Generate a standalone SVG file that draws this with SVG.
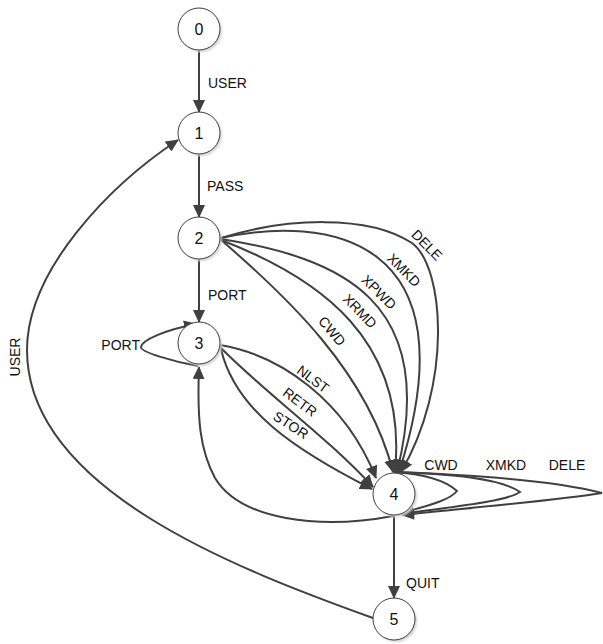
<svg xmlns="http://www.w3.org/2000/svg" width="603" height="644" viewBox="0 0 603 644">
  <defs>
    <marker id="arrow" markerUnits="userSpaceOnUse" markerWidth="13" markerHeight="12" refX="12" refY="6" orient="auto">
      <path d="M0,0 L13,6 L0,12 z" fill="#404040"/>
    </marker>
    <filter id="shadow" x="-30%" y="-30%" width="160%" height="160%">
      <feGaussianBlur stdDeviation="1.2"/>
    </filter>
    <style>
      .edge { fill: none; stroke: #404040; stroke-width: 2; marker-end: url(#arrow); }
      .node circle.body { fill: #ffffff; stroke: #404040; stroke-width: 1; }
      .node circle.shade { fill: #d4d4d4; filter: url(#shadow); }
      .node text { font-family: "Liberation Sans", Arial, sans-serif; font-size: 16px; fill: #111; text-anchor: middle; }
      .lbl { font-family: "Liberation Sans", Arial, sans-serif; font-size: 14px; fill: #111; }
      .mid { text-anchor: middle; }
      .end { text-anchor: end; }
    </style>
  </defs>

  <g id="edges">
    <!-- straight chain -->
    <path class="edge" d="M199,50 L199,112"/>
    <path class="edge" d="M199,154 L199,217"/>
    <path class="edge" d="M199,259 L199,322"/>
    <path class="edge" d="M394,515 L394,598"/>

    <!-- 5 back to 1 -->
    <path class="edge" d="M373,618 C240,570 27,490 27,350 C27,270 110,185 178,140"/>

    <!-- 2 to 4 -->
    <path class="edge" d="M220,239 C285,295 368,372 393,472"/>
    <path class="edge" d="M221,240 C320,278 408,340 395,472"/>
    <path class="edge" d="M221,239 C340,258 440,300 397,472"/>
    <path class="edge" d="M221,238 C325,215 475,235 399,472"/>
    <path class="edge" d="M221,238 C285,218 368,214 412,243 C445,268 452,385 401,472"/>

    <!-- 3 to 4 -->
    <path class="edge" d="M220,345 C280,355 345,400 376,478"/>
    <path class="edge" d="M220,347 C265,393 325,435 373,487"/>
    <path class="edge" d="M221,349 C235,410 295,450 372,489"/>

    <!-- 4 back to 3 -->
    <path class="edge" d="M393,516 C320,530 240,520 215,478 C200,450 197,420 199,367"/>

    <!-- loop on 3 -->
    <path class="edge" d="M198,366 C175,362 140,352 141,347 C142,340 165,330 196,324"/>

    <!-- loops on 4 -->
    <path class="edge" d="M393,472 C425,474 445,480 457,491 C450,500 430,505 402,513"/>
    <path class="edge" d="M393,472 C450,474 500,478 520,492 C505,502 450,507 402,514"/>
    <path class="edge" d="M393,472 C480,475 560,482 602,493 C560,500 480,507 402,515"/>
  </g>

  <g id="labels">
    <text class="lbl" x="208" y="88">USER</text>
    <text class="lbl" x="207" y="191">PASS</text>
    <text class="lbl" x="208" y="300">PORT</text>
    <text class="lbl" x="406" y="588">QUIT</text>
    <text class="lbl end" x="140" y="350">PORT</text>
    <text class="lbl mid" transform="translate(15,357) rotate(-90)" y="5">USER</text>

    <text class="lbl mid" transform="translate(427,245) rotate(45)" y="5">DELE</text>
    <text class="lbl mid" transform="translate(404,270) rotate(45)" y="5">XMKD</text>
    <text class="lbl mid" transform="translate(379,292) rotate(45)" y="5">XPWD</text>
    <text class="lbl mid" transform="translate(360,311) rotate(46)" y="5">XRMD</text>
    <text class="lbl mid" transform="translate(332,331) rotate(50)" y="5">CWD</text>

    <text class="lbl mid" transform="translate(313,379) rotate(37)" y="5">NLST</text>
    <text class="lbl mid" transform="translate(300,402) rotate(37)" y="5">RETR</text>
    <text class="lbl mid" transform="translate(291,425) rotate(33)" y="5">STOR</text>

    <text class="lbl mid" x="441" y="470">CWD</text>
    <text class="lbl mid" x="506" y="470">XMKD</text>
    <text class="lbl mid" x="567" y="470">DELE</text>
  </g>

  <g id="node0" class="node"><circle class="shade" cx="201" cy="31" r="21"/><circle class="body" cx="199" cy="29" r="21"/><text x="199" y="35">0</text></g>
  <g id="node1" class="node"><circle class="shade" cx="201" cy="135" r="21"/><circle class="body" cx="199" cy="133" r="21"/><text x="199" y="139">1</text></g>
  <g id="node2" class="node"><circle class="shade" cx="201" cy="240" r="21"/><circle class="body" cx="199" cy="238" r="21"/><text x="199" y="244">2</text></g>
  <g id="node3" class="node"><circle class="shade" cx="201" cy="345" r="21"/><circle class="body" cx="199" cy="343" r="21"/><text x="199" y="349">3</text></g>
  <g id="node4" class="node"><circle class="shade" cx="396" cy="496" r="21"/><circle class="body" cx="394" cy="494" r="21"/><text x="394" y="500">4</text></g>
  <g id="node5" class="node"><circle class="shade" cx="396" cy="621" r="21"/><circle class="body" cx="394" cy="619" r="21"/><text x="394" y="625">5</text></g>
</svg>
